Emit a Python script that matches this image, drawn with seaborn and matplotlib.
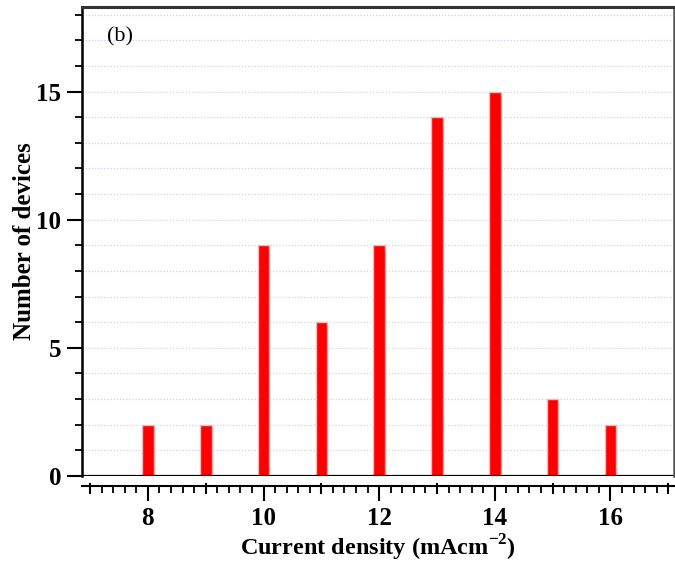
import numpy as np
import matplotlib
matplotlib.use("Agg")
import matplotlib.pyplot as plt
from matplotlib.ticker import MultipleLocator, FixedLocator
import seaborn as sns
import pandas as pd

current_density = [8, 9, 10, 11, 12, 13, 14, 15, 16]
num_devices = [2, 2, 9, 6, 9, 14, 15, 3, 2]
x_major_labels = [8, 10, 12, 14, 16]
y_major_ticks = [0, 5, 10, 15]

sns.set_style("white")
plt.rcParams['font.family'] = ['Liberation Serif', 'DejaVu Serif']
plt.rcParams['font.weight'] = 'bold'
plt.rcParams['mathtext.fontset'] = 'custom'
plt.rcParams['mathtext.rm'] = 'Liberation Serif:bold'
plt.rcParams['mathtext.bf'] = 'Liberation Serif:bold'
plt.rcParams['text.color'] = 'black'
plt.rcParams['axes.labelcolor'] = 'black'
plt.rcParams['xtick.color'] = 'black'
plt.rcParams['ytick.color'] = 'black'

df = pd.DataFrame({"x": current_density, "y": num_devices})

fig = plt.figure(figsize=(6.75, 5.63), dpi=100)
ax = fig.add_axes([82/675, 87/563, (674-82)/675, (476-7)/563])

sns.barplot(data=df, x="x", y="y", native_scale=True, width=0.2,
            color="#ff0000", edgecolor="#ffb0b0", linewidth=1.0,
            saturation=1, ax=ax, zorder=3)
for p in ax.patches:
    p.set_facecolor("#ff0000")

ax.set_xlim(6.86, 17.1)
ax.set_ylim(0, 18.3)

ax.yaxis.set_major_locator(FixedLocator(y_major_ticks))
ax.yaxis.set_minor_locator(MultipleLocator(1))
for yv in range(1, 19):
    ax.axhline(yv, color="#d0d0f4", lw=0.9, ls=(0, (1, 1.5)), zorder=1)
ax.axhline(0, color="black", lw=1.6, zorder=4)

ax.xaxis.set_major_locator(FixedLocator(x_major_labels))
ax.xaxis.set_minor_locator(MultipleLocator(0.2))
ax.tick_params(axis="x", which="major", direction="out", length=11, width=1.5,
               pad=4, labelsize=18, colors="black")
ax.tick_params(axis="x", which="minor", direction="out", length=5, width=1.3)
ax.tick_params(axis="y", which="major", direction="out", length=11, width=1.5,
               pad=4, labelsize=18, colors="black")
ax.tick_params(axis="y", which="minor", direction="out", length=5, width=1.3)
ax.tick_params(bottom=True, left=True, which="both")

ax.spines["bottom"].set_position(("outward", 7))
ax.spines["bottom"].set_linewidth(1.5)
ax.spines["bottom"].set_color("black")
ax.spines["left"].set_linewidth(1.8)
ax.spines["left"].set_color("black")
ax.spines["top"].set_linewidth(2.2)
ax.spines["top"].set_color("#333333")
ax.spines["right"].set_linewidth(1.8)
ax.spines["right"].set_color("#555555")
for s in ax.spines.values():
    s.set_zorder(5)

sec = ax.secondary_xaxis(-7/469)
sec.set_xticks([7, 9, 11, 13, 15, 17])
sec.tick_params(axis="x", length=8, width=1.5, labelbottom=False,
                direction="out", colors="black")
sec.spines["bottom"].set_visible(False)

ax.set_xlabel("Current density (mAcm$^{-2}$)", fontsize=17.5,
              fontweight="bold", labelpad=2)
ax.set_ylabel("Number of devices", fontsize=18, fontweight="bold", labelpad=0)

ax.text(0.042, 0.957, "(b)", transform=ax.transAxes, fontsize=16,
        fontweight="normal", va="top", ha="left")

fig.savefig("out.png", dpi=100)
